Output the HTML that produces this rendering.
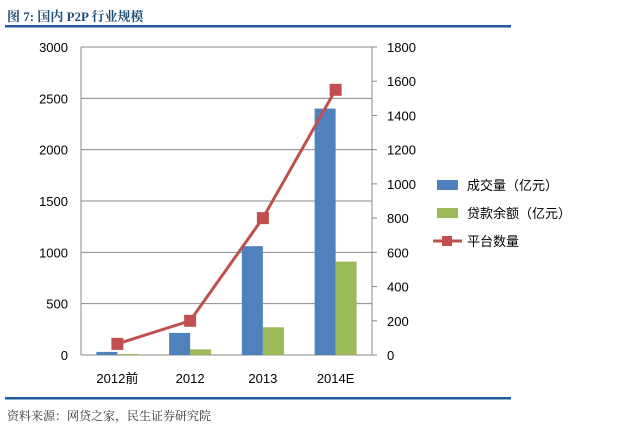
<!DOCTYPE html>
<html><head><meta charset="utf-8"><style>
body{margin:0;background:#fff;}
svg text{font-family:"Liberation Sans","Noto Sans CJK SC",sans-serif;}
</style></head><body>
<svg width="640" height="430" viewBox="0 0 640 430" xmlns="http://www.w3.org/2000/svg">
<text x="7" y="21" font-size="13" font-weight="bold" fill="#1f4e79" style="font-family:'Liberation Serif','Noto Serif CJK SC',serif">图 7:   国内 P2P 行业规模</text>
<rect x="5" y="25" width="506" height="2.5" fill="#1f5c99"/>
<g id="plot"></g>
<rect x="5" y="397" width="506" height="2.5" fill="#1f5c99"/>
<text x="7" y="420" font-size="12" fill="#333" style="font-family:'Liberation Serif','Noto Serif CJK SC',serif">资料来源：网贷之家，民生证券研究院</text>
</svg>
<script>
const categories=["2012前","2012","2013","2014E"];
const volume=[30,215,1060,2400];
const balance=[10,55,270,910];
const platforms=[65,200,800,1550];
const leftTicks=[0,500,1000,1500,2000,2500,3000];
const rightTicks=[0,200,400,600,800,1000,1200,1400,1600,1800];
const NS="http://www.w3.org/2000/svg";
const g=document.getElementById('plot');
const X0=81,X1=372,Y0=355,Y1=47;
const yL=v=>Y0-(v/3000)*(Y0-Y1);
const yR=v=>Y0-(v/1800)*(Y0-Y1);
const bw=(X1-X0)/categories.length;
const xc=i=>X0+bw*(i+0.5);
function el(t,a){const e=document.createElementNS(NS,t);for(const k in a)e.setAttribute(k,a[k]);g.appendChild(e);return e;}
leftTicks.forEach(v=>{
  const l=el('line',{x1:X0,x2:X1,y1:yL(v),y2:yL(v),stroke:'#888','stroke-width':1});
  
  
  const t=el('text',{x:68,y:yL(v)+5,'font-size':13,'text-anchor':'end',fill:'#000'});
  t.textContent=v;
  
  
});
const la=el('line',{x1:X0,x2:X0,y1:Y1,y2:Y0,stroke:'#888'});


const ra=el('line',{x1:X1,x2:X1,y1:Y1,y2:Y0,stroke:'#888'});


rightTicks.forEach(v=>{
  const tk=el('line',{x1:X1,x2:X1+5,y1:yR(v),y2:yR(v),stroke:'#888'});
  
  
  const t=el('text',{x:387,y:yR(v)+5,'font-size':13,fill:'#000'});
  t.textContent=v;
  
  
});
categories.forEach((c,i)=>{
  const b=el('rect',{x:xc(i)-21,y:yL(volume[i]),width:21,height:Y0-yL(volume[i]),fill:'#4f81bd'});
  
  
  const b2=el('rect',{x:xc(i),y:yL(balance[i]),width:21,height:Y0-yL(balance[i]),fill:'#9bbb59'});
  
  
  const t=el('text',{x:xc(i),y:383,'font-size':13,'text-anchor':'middle',fill:'#000'});
  t.textContent=c;
  
  
});
const pl=el('polyline',{points:platforms.map((v,i)=>xc(i)+','+yR(v)).join(' '),fill:'none',stroke:'#c0504d','stroke-width':3});


platforms.forEach((v,i)=>{
  const m=el('rect',{x:xc(i)-6,y:yR(v)-6,width:12,height:12,fill:'#c0504d'});
  
  
});
const leg=[["成交量（亿元）","#4f81bd",0],["贷款余额（亿元）","#9bbb59",0],["平台数量","#c0504d",1]];
leg.forEach((L,i)=>{
  const y=185+i*28;
  if(L[2]){
    const ln=el('line',{x1:433,x2:462,y1:y,y2:y,stroke:L[1],'stroke-width':3});
    
    
    const m=el('rect',{x:442,y:y-5,width:10,height:10,fill:L[1]});
    
    
  }else{
    const s=el('rect',{x:437,y:y-5,width:21,height:10,fill:L[1]});
    
    
  }
  const t=el('text',{x:467,y:y+5,'font-size':13,fill:'#000'});
  t.textContent=L[0];
  
  
});
</script>
</body></html>
